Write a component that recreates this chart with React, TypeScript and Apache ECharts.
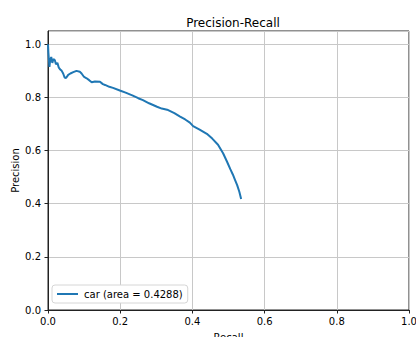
import React, { useEffect, useRef } from "react";
import * as echarts from "echarts";

const recall = [0, 0.001, 0.004, 0.006, 0.009, 0.012, 0.015, 0.019, 0.022, 0.026, 0.030, 0.034, 0.038, 0.042, 0.046, 0.050, 0.056, 0.062, 0.070, 0.079, 0.088, 0.093, 0.100, 0.107, 0.114, 0.121, 0.130, 0.144, 0.152, 0.158, 0.170, 0.180, 0.199, 0.215, 0.235, 0.250, 0.263, 0.280, 0.302, 0.315, 0.330, 0.350, 0.366, 0.380, 0.393, 0.402, 0.420, 0.440, 0.455, 0.471, 0.485, 0.496, 0.505, 0.512, 0.518, 0.524, 0.530, 0.535];
const precision = [1.0, 0.97, 0.915, 0.94, 0.952, 0.93, 0.945, 0.94, 0.925, 0.93, 0.912, 0.905, 0.9, 0.89, 0.875, 0.873, 0.885, 0.89, 0.895, 0.9, 0.897, 0.89, 0.877, 0.872, 0.865, 0.857, 0.86, 0.859, 0.85, 0.847, 0.84, 0.836, 0.826, 0.818, 0.807, 0.797, 0.79, 0.778, 0.765, 0.758, 0.754, 0.741, 0.728, 0.717, 0.705, 0.692, 0.679, 0.663, 0.645, 0.622, 0.59, 0.558, 0.53, 0.51, 0.49, 0.47, 0.445, 0.418];
const seriesName = "car (area = 0.4288)";
const titleText = "Precision-Recall";
const xName = "Recall";
const yName = "Precision";

const FONT = "DejaVu Sans";

export default function App() {
  const ref = useRef<HTMLDivElement>(null);
  useEffect(() => {
    if (!ref.current) return;
    const chart = echarts.init(ref.current, undefined, { renderer: "svg" });
    const data = recall.map((r, i) => [r, precision[i]]);
    chart.setOption({
      animation: false,
      backgroundColor: "#ffffff",
      textStyle: { fontFamily: FONT },
      title: {
        text: titleText,
        left: 228,
        textAlign: "center",
        top: 12,
        textStyle: { fontFamily: FONT, fontSize: 12, fontWeight: "normal", color: "#000" },
      },
      grid: {
        left: 48,
        right: 7,
        top: 31,
        bottom: 27,
        containLabel: false,
        outerBoundsMode: "none",
        show: true,
        borderColor: "#222",
        borderWidth: 1,
        backgroundColor: "transparent",
      },
      legend: {
        left: 52,
        top: 285,
        orient: "vertical",
        icon: "rect",
        itemWidth: 21,
        itemHeight: 2,
        itemGap: 4,
        padding: [4, 5, 4, 5],
        backgroundColor: "#ffffff",
        borderColor: "#d6d6d6",
        borderWidth: 1,
        borderRadius: 3,
        textStyle: { fontFamily: FONT, fontSize: 10, color: "#000", padding: [0, 0, 0, 1] },
        data: [seriesName],
      },
      xAxis: {
        type: "value",
        min: 0,
        max: 1,
        interval: 0.2,
        name: xName,
        nameLocation: "middle",
        nameGap: 22,
        nameMoveOverlap: false,
        nameTextStyle: { fontFamily: FONT, fontSize: 10, color: "#000" },
        axisLine: { show: true, lineStyle: { color: "#222", width: 1 } },
        axisTick: { show: true, length: 3.5, lineStyle: { color: "#222" } },
        axisLabel: {
          margin: 6,
          fontFamily: FONT,
          fontSize: 10,
          color: "#000",
          formatter: (v: number) => v.toFixed(1),
        },
        splitLine: { show: true, lineStyle: { color: "#c8c8c8", width: 1 } },
      },
      yAxis: {
        type: "value",
        min: 0,
        max: 1.05,
        interval: 0.2,
        name: yName,
        nameLocation: "middle",
        nameGap: 28,
        nameMoveOverlap: false,
        nameTextStyle: { fontFamily: FONT, fontSize: 10, color: "#000" },
        axisLine: { show: true, lineStyle: { color: "#222", width: 1 } },
        axisTick: { show: true, length: 3.5, lineStyle: { color: "#222" } },
        axisLabel: {
          margin: 7,
          showMaxLabel: false,
          fontFamily: FONT,
          fontSize: 10,
          color: "#000",
          formatter: (v: number) => (v > 1.001 ? "" : v.toFixed(1)),
        },
        splitLine: { show: true, lineStyle: { color: "#c8c8c8", width: 1 } },
      },
      series: [
        {
          name: seriesName,
          type: "line",
          data,
          showSymbol: false,
          symbol: "none",
          lineStyle: { color: "#1f77b4", width: 2 },
          itemStyle: { color: "#1f77b4" },
        },
      ],
    });
    return () => chart.dispose();
  }, []);
  return (
    <div
      ref={ref}
      style={{ position: "fixed", left: 0, top: 0, width: 416, height: 337 }}
    />
  );
}
